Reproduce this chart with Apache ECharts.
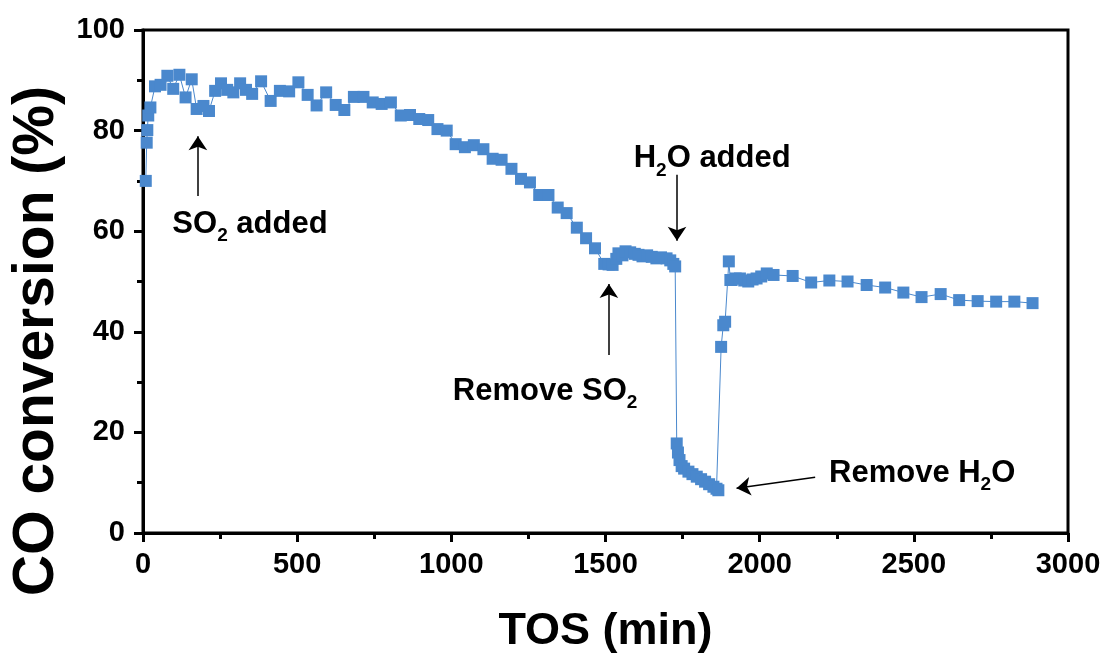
<!DOCTYPE html>
<html>
<head>
<meta charset="utf-8">
<script src="https://cdn.jsdelivr.net/npm/echarts@6/dist/echarts.min.js"></script>
<style>
	html, body {
		margin: 0;
		padding: 0;
		background: #fff;
	}
	#chart {
		width: 1107px;
		height: 653px;
	}
</style>
</head>
<body>
<div id="chart"></div>
<script>
	// TOS (min) and CO conversion (%)
	const tos = [9, 12, 14, 17, 24, 39, 57, 79, 98, 118, 138, 158, 174, 196, 214, 234, 253, 273, 293, 315,
		334, 354, 383, 414, 444, 474, 504, 534, 563, 594, 625, 653, 684, 715, 745, 774, 804, 836, 866, 896,
		925, 955, 985, 1014, 1044, 1073, 1104, 1134, 1163, 1195, 1226, 1255, 1285, 1315, 1345, 1374, 1407, 1437, 1466, 1496,
		1510, 1523, 1535, 1542, 1555, 1565, 1580, 1595, 1607, 1620, 1635, 1650, 1665, 1680, 1698, 1710, 1720, 1726,
		1731, 1735, 1740, 1747, 1755, 1769, 1782, 1796, 1810, 1823, 1836, 1850, 1860, 1866,
		1875, 1882, 1888, 1900, 1905, 1909, 1922, 1936, 1950, 1963, 1977, 1990, 2005, 2023, 2045,
		2107, 2167, 2226, 2285, 2347, 2407, 2466, 2525, 2587, 2647, 2707, 2767, 2826, 2885]
	const conversion = [70, 77.6, 80.1, 83, 84.6, 88.8, 89.1, 90.9, 88.3, 91.1, 86.6, 90.2, 84.3, 84.9, 83.9, 87.9, 89.4, 88.1, 87.6, 89.4,
		88.1, 87.3, 89.8, 85.9, 87.9, 87.8, 89.6, 87.1, 85, 87.6, 85.1, 84.1, 86.7, 86.7, 85.6, 85.3, 85.6, 83, 83.1, 82.3,
		82.1, 80.3, 80, 77.3, 76.7, 77.1, 76.3, 74.4, 74.2, 72.4, 70.4, 69.7, 67.2, 67.2, 64.7, 63.6, 60.7, 58.6, 56.6, 53.5,
		53.4, 53.3, 54.5, 55.6, 55.2, 56, 55.8, 55.5, 55.3, 55, 55.2, 54.9, 54.6, 54.8, 54.6, 54.2, 53.5, 53,
		17.8, 16, 14.5, 13.3, 12.8, 12.2, 11.7, 11.2, 10.7, 10.2, 9.7, 9.2, 8.8, 8.5,
		37, 41.3, 42, 54, 50.3, 50.3, 50.6, 50.6, 50.2, 50, 50.4, 50.6, 51, 51.6, 51.3,
		51.1, 49.8, 50.2, 50, 49.3, 48.8, 47.8, 46.9, 47.5, 46.3, 46.1, 46, 46, 45.7]

	// annotations: text, label anchor, arrow start, arrow end (data coords)
	const noteText = ['{t|SO}{s|2}{t| added}', '{t|Remove SO}{s|2}', '{t|H}{s|2}{t|O added}', '{t|Remove H}{s|2}{t|O}']
	const noteAt = [[347, 61.4], [1304, 28.2], [1846, 74.4], [2527, 11.9]]
	const arrowFrom = [[178, 67], [1511, 35.4], [1732, 71.2], [2180, 11.1]]
	const arrowTo = [[178, 78.9], [1511, 49.5], [1732, 58.1], [1925, 8.9]]

	const font = "'Liberation Sans', Arial, sans-serif"
	const blue = '#4a88cd'

	let option = {
		animation: false,
		grid: {
			left: 143,
			right: 39,
			top: 30,
			bottom: 120,
			outerBoundsMode: 'none',
			show: true,
			borderColor: '#000',
			borderWidth: 3,
		},
		xAxis: {
			type: 'value',
			min: 0,
			max: 3000,
			interval: 500,
			name: 'TOS (min)',
			nameLocation: 'middle',
			nameGap: 76,
			nameTextStyle: {
				color: '#000',
				fontFamily: font,
				fontWeight: 'bold',
				fontSize: 45
			},
			axisLine: {
				onZero: false,
				lineStyle: {
					color: '#000',
					width: 3
				}
			},
			axisTick: {
				length: 9,
				lineStyle: {
					width: 3,
					color: '#000'
				}
			},
			minorTick: {
				show: true,
				splitNumber: 2,
				length: 6,
				lineStyle: {
					width: 3,
					color: '#000'
				}
			},
			splitLine: {
				show: false
			},
			axisLabel: {
				margin: 17,
				color: '#000',
				fontFamily: font,
				fontWeight: 'bold',
				fontSize: 29,
				formatter: v => String(v)
			}
		},
		yAxis: {
			type: 'value',
			min: 0,
			max: 100,
			interval: 20,
			axisLine: {
				show: true,
				onZero: false,
				lineStyle: {
					color: '#000',
					width: 3
				}
			},
			axisTick: {
				show: true,
				length: 9,
				lineStyle: {
					width: 3,
					color: '#000'
				}
			},
			minorTick: {
				show: true,
				splitNumber: 2,
				length: 6,
				lineStyle: {
					width: 3,
					color: '#000'
				}
			},
			splitLine: {
				show: false
			},
			axisLabel: {
				margin: 18,
				color: '#000',
				fontFamily: font,
				fontWeight: 'bold',
				fontSize: 29
			}
		},
		graphic: [{
			type: 'text',
			x: 37,
			y: 341,
			rotation: Math.PI / 2,
			style: {
				text: 'CO conversion (%)',
				fill: '#000',
				font: 'bold 57px ' + font,
				textAlign: 'center',
				textVerticalAlign: 'middle'
			}
		}],
		series: [{
			type: 'line',
			data: tos.map((t, i) => [t, conversion[i]]),
			symbol: 'rect',
			symbolSize: 12,
			showAllSymbol: true,
			lineStyle: {
				color: blue,
				width: 1
			},
			itemStyle: {
				color: blue
			},
			silent: true,
			markLine: {
				silent: true,
				symbol: ['none', 'arrow'],
				symbolSize: 14,
				label: {
					show: false
				},
				lineStyle: {
					color: '#000',
					width: 1.5,
					type: 'solid'
				},
				data: arrowFrom.map((p, i) => [{
					coord: p
				}, {
					coord: arrowTo[i]
				}])
			},
			markPoint: {
				silent: true,
				symbol: 'circle',
				symbolSize: 0,
				data: noteAt.map((p, i) => ({
					coord: p,
					label: {
						show: true,
						position: 'inside',
						formatter: noteText[i],
						rich: {
							t: {
								color: '#000',
								fontFamily: font,
								fontWeight: 'bold',
								fontSize: 31,
								lineHeight: 36
							},
							s: {
								color: '#000',
								fontFamily: font,
								fontWeight: 'bold',
								fontSize: 19,
								lineHeight: 19,
								padding: [24, 0, 0, 0]
							}
						}
					}
				}))
			}
		}]
	}

	const dom = echarts.init(document.getElementById('chart'))
	dom.setOption(option)
</script>
</body>
</html>
